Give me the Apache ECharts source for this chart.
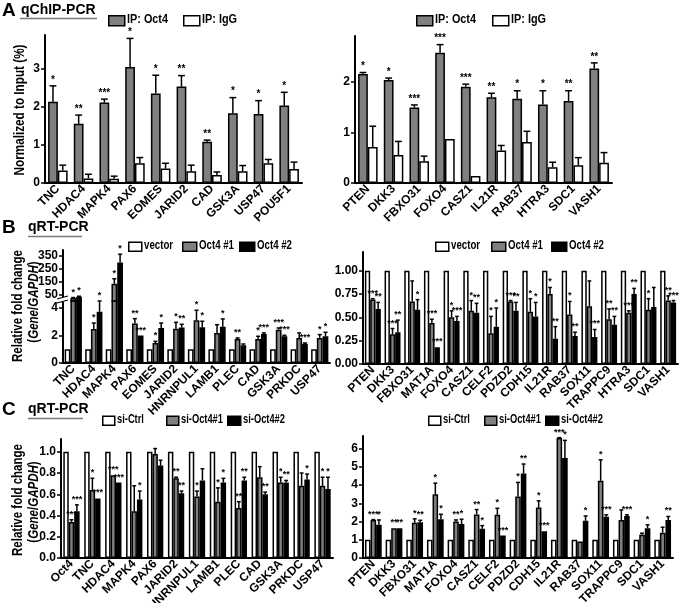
<!DOCTYPE html>
<html><head><meta charset="utf-8">
<script src="https://cdn.jsdelivr.net/npm/echarts@6/dist/echarts.min.js"></script>
<style>html,body{margin:0;padding:0;background:#fff}#c{width:681px;height:603px}</style>
</head><body><div id="c"></div>
<script>
// ---------------- DATA ----------------
// Panel A (qChIP-PCR)
const aLeftCats = ['TNC','HDAC4','MAPK4','PAX6','EOMES','JARID2','CAD','GSK3A','USP47','POU5F1'];
const aLeftOct4 = [2.14,1.56,2.12,3.06,2.36,2.54,1.09,1.84,1.82,2.04];
const aLeftOct4Err = [0.42,0.23,0.09,0.75,0.48,0.29,0.04,0.41,0.35,0.35];
const aLeftOct4Sig = ['*','**','***','*','*','**','**','*','*','*'];
const aLeftIgG = [0.33,0.12,0.11,0.52,0.38,0.31,0.21,0.31,0.52,0.37];
const aLeftIgGErr = [0.14,0.11,0.07,0.15,0.14,0.16,0.08,0.15,0.10,0.18];

const aRightCats = ['PTEN','DKK3','FBXO31','FOXO4','CASZ1','IL21R','RAB37','HTRA3','SDC1','VASH1'];
const aRightOct4 = [2.15,2.03,1.49,2.57,1.90,1.69,1.66,1.55,1.62,2.26];
const aRightOct4Err = [0.03,0.04,0.05,0.16,0.05,0.08,0.16,0.27,0.20,0.11];
const aRightOct4Sig = ['*','*','***','***','***','**','*','*','**','**'];
const aRightIgG = [0.71,0.55,0.43,0.87,0.14,0.64,0.81,0.31,0.35,0.40];
const aRightIgGErr = [0.41,0.27,0.10,0,0,0.10,0.21,0.10,0.15,0.20];

// Panel B (qRT-PCR, overexpression)
const bLeftCats = ['TNC','HDAC4','MAPK4','PAX6','EOMES','JARID2','HNRNPUL1','LAMB1','PLEC','CAD','GSK3A','PRKDC','USP47'];
const bLeftVector = [1,1,1,1,1,1,1,1,1,1,1,1,1];
const bLeftO1 = [28,2.47,135,2.86,1.45,2.49,3.10,2.18,1.74,1.74,2.42,1.82,1.82];
const bLeftO1Err = [3,0.43,38,0.36,0.12,0.46,0.73,0.60,0.08,0.20,0.12,0.36,0.24];
const bLeftO1Sig = ['*','*','*','**','*','*','*','','**','*','***','','*'];
const bLeftO2 = [38,3.72,295,1.99,2.54,2.57,2.59,2.64,1.28,2.11,1.94,1.40,1.94];
const bLeftO2Err = [3,0.78,63,0,0.36,0.24,0.44,0.56,0.10,0.07,0.07,0.05,0.29];
const bLeftO2Sig = ['*','*','*','***','*','**','*','*','','***','***','***','*'];

const bRightCats = ['PTEN','DKK3','FBXO31','MAT1A','FOXO4','CASZ1','CELF2','PDZD2','CDH15','IL21R','RAB37','SOX11','TRAPPC9','HTRA3','SDC1','VASH1'];
const bRightVector = [1,1,1,1,1,1,1,1,1,1,1,1,1,1,1,1];
const bRightO1 = [0.69,0.32,0.67,0.44,0.50,0.57,0.33,0.67,0.56,0.75,0.53,0.62,0.48,0.55,0.58,0.68];
const bRightO1Err = [0.01,0.06,0.22,0.04,0.07,0.11,0.18,0.01,0.14,0.07,0.14,0.27,0.11,0.02,0.12,0.05];
const bRightO1Sig = ['***','***','','***','*','*','*','***','*','*','*','','**','***','*','**'];
const bRightO2 = [0.59,0.34,0.58,0.18,0.46,0.55,0.40,0.57,0.51,0.27,0.30,0.29,0.42,0.75,0.61,0.66];
const bRightO2Err = [0.07,0.13,0.11,0,0.05,0.10,0.20,0.09,0.15,0.13,0.04,0.08,0.09,0.06,0.21,0.02];
const bRightO2Sig = ['**','**','*','***','***','**','*','**','*','**','**','***','**','**','','***'];

// Panel C (qRT-PCR, knockdown)
const cLeftCats = ['Oct4','TNC','HDAC4','MAPK4','PAX6','JARID2','HNRNPUL1','LAMB1','PLEC','CAD','GSK3A','PRKDC','USP47'];
const cLeftCtrl = [1,1,1,1,1,1,1,1,1,1,1,1,1];
const cLeftS1 = [0.34,0.64,0.78,0.44,0.98,0.75,0.58,0.53,0.47,0.76,0.71,0.68,0.68];
const cLeftS1Err = [0.02,0.11,0,0.24,0.05,0.01,0.05,0.13,0.06,0.10,0.05,0.12,0.08];
const cLeftS1Sig = ['***','*','***','','','**','*','*','**','','*','','*'];
const cLeftS2 = [0.44,0.56,0.71,0.55,0.87,0.61,0.73,0.71,0.73,0.60,0.71,0.74,0.65];
const cLeftS2Err = [0.06,0,0,0.08,0.05,0.02,0.11,0.04,0.03,0.02,0.02,0.05,0.11];
const cLeftS2Sig = ['***','***','***','*','','**','','*','**','**','**','*','*'];

const cRightCats = ['PTEN','DKK3','FBXO31','MAT1A','FOXO4','CASZ1','CELF2','PDZD2','CDH15','IL21R','RAB37','SOX11','TRAPPC9','SDC1','VASH1'];
const cRightCtrl = [1,1,1,1,1,1,1,1,1,1,1,1,1,1,1];
const cRightS1 = [2.09,1.63,1.93,3.50,2.00,2.39,2.37,3.38,2.77,6.59,0.90,4.24,2.09,1.27,1.39];
const cRightS1Err = [0.02,0,0.22,0.61,0.09,0.27,0.36,0.77,0.37,0.02,0,1.15,0.55,0.09,0.30];
const cRightS1Sig = ['***','**','*','*','**','**','*','*','*','***','','*','','',''];
const cRightS2 = [1.82,1.63,1.96,2.13,1.87,1.60,1.23,4.64,1.47,5.49,2.04,2.26,2.31,1.63,2.09];
const cRightS2Err = [0.27,0,0.11,0.27,0.26,0.18,0,0.52,0,0.97,0.27,0.11,0.06,0.19,0.19];
const cRightS2Sig = ['*','**','**','*','*','*','***','**','***','*','*','***','***','*','**'];

// tick labels
const aLeftTicks = [0,1,2,3];
const aRightTicks = [0,1,2];
const bLowTicks = [0,2,4];
const bHighTicks = [50,150,250,350];
const bRightTicks = [0,0.25,0.5,0.75,1.0];
const cLeftTicks = [0,0.2,0.4,0.6,0.8,1.0];
const cRightTicks = [0,1,2,3,4,5,6];

// ---------------- BUILD ----------------
const FF = "'Liberation Sans',Arial,sans-serif";
const WHITE = '#ffffff', GRAY = '#808080', BLACK = '#000000';
const grids = [], xAxes = [], yAxes = [], series = [], legends = [], graphics = [];

// the original uses a condensed bold face: measure and compress horizontally to the same length
const mctx = document.createElement('canvas').getContext('2d');
function tw(text, size){ mctx.font = 'bold ' + size + 'px ' + FF; return mctx.measureText(text).width; }
function squeeze(text, size, target){ return Math.min(1, target / tw(text, size)); }

function addGrid(g){ g.outerBoundsMode = 'none'; g.containLabel = false; grids.push(g); return grids.length - 1; }
function addX(gi, cats, show){
  xAxes.push({type:'category', gridIndex:gi, data:cats, show: show !== false,
    axisLine:{lineStyle:{color:'#000', width:2}}, axisTick:{show:false},
    axisLabel:{interval:0, rotate:45, fontFamily:FF, fontWeight:'bold', fontSize:12, color:'#000', margin:4}});
  return xAxes.length - 1;
}
function addY(gi, min, max, ticks, fmt){
  yAxes.push({type:'value', gridIndex:gi, min:min, max:max, splitLine:{show:false},
    axisLine:{show:true, lineStyle:{color:'#000', width:2}},
    axisTick:{show:true, length:4, customValues:ticks, lineStyle:{color:'#000', width:1.5}},
    axisLabel:{customValues:ticks, formatter:fmt, fontFamily:FF, fontWeight:'bold', fontSize:12, color:'#000', margin:5}});
  return yAxes.length - 1;
}
function bar(name, vals, color, xi, yi, frac){
  return {type:'bar', name:name, data:vals, xAxisIndex:xi, yAxisIndex:yi, barWidth:(frac*100)+'%', barGap:'0%',
    clip:true, silent:true, itemStyle:{color:color, borderColor:'#000', borderWidth:1.5}};
}
function errs(vals, es, sigs, k, n, frac, xi, yi, filter, fs){
  return {type:'custom', xAxisIndex:xi, yAxisIndex:yi, clip:false, silent:true, z:5,
    data: vals.map((v, i) => [i, v, es[i]]),
    renderItem: function(params, api){
      const i = api.value(0), v = api.value(1), e = api.value(2);
      if (filter && !filter(v)) return null;
      const band = api.size([1, 0])[0];
      const bw = band * frac;
      const cx = api.coord([i, 0])[0] + (k - (n - 1) / 2) * bw;
      const y0 = api.coord([i, v])[1], y1 = api.coord([i, v + e])[1];
      const cw = Math.max(3, bw * 0.7);
      const ch = [];
      if (e > 0) {
        ch.push({type:'line', shape:{x1:cx, y1:y0, x2:cx, y2:y1}, style:{stroke:'#000', lineWidth:1.5}});
        ch.push({type:'line', shape:{x1:cx - cw / 2, y1:y1, x2:cx + cw / 2, y2:y1}, style:{stroke:'#000', lineWidth:1.5}});
      }
      const s = sigs[params.dataIndex];
      if (s) ch.push({type:'text', x:cx, y:y1 - 1, style:{text:s, fill:'#000', font:'bold ' + fs + 'px ' + FF,
        textAlign:'center', align:'center', textVerticalAlign:'bottom', verticalAlign:'bottom'}});
      return {type:'group', children:ch};
    }};
}
// legend swatch from the legend component; its label is drawn as condensed real text
function legendItem(name, left, cy, w, h, size, sx){
  legends.push({data:[name], left:left, top:cy - h / 2, padding:0, itemWidth:w, itemHeight:h, icon:'rect',
    selectedMode:false, itemStyle:{borderColor:'#000', borderWidth:1.5}, formatter:function(){ return ''; },
    textStyle:{fontSize:1}});
  graphics.push({type:'text', x:left + w + 3, y:cy, scaleX:sx, scaleY:1, z:50,
    style:{text:name, fill:'#000', font:'bold ' + size + 'px ' + FF,
      textAlign:'left', align:'left', textVerticalAlign:'middle', verticalAlign:'middle'}});
}
function panel(grid, cats, groups, frac, ymax, ticks, fmt, fs){
  const gi = addGrid(grid), xi = addX(gi, cats), yi = addY(gi, 0, ymax, ticks, fmt);
  groups.forEach(g => series.push(bar(g.name, g.vals, g.color, xi, yi, frac)));
  groups.forEach((g, k) => { if (g.errs) series.push(errs(g.vals, g.errs, g.sigs, k, groups.length, frac, xi, yi, null, fs)); });
}
const intFmt = v => String(v);

// Panel A
panel({left:45, top:35, width:257, height:148}, aLeftCats, [
  {name:'IP: Oct4', vals:aLeftOct4, color:GRAY, errs:aLeftOct4Err, sigs:aLeftOct4Sig},
  {name:'IP: IgG', vals:aLeftIgG, color:WHITE, errs:aLeftIgGErr, sigs:[]}
], 0.38, 3.9, aLeftTicks, intFmt, 10);
panel({left:355, top:36, width:257, height:147}, aRightCats, [
  {name:'IP: Oct4', vals:aRightOct4, color:GRAY, errs:aRightOct4Err, sigs:aRightOct4Sig},
  {name:'IP: IgG', vals:aRightIgG, color:WHITE, errs:aRightIgGErr, sigs:[]}
], 0.38, 2.9, aRightTicks, intFmt, 10);

// Panel B left: broken axis = two stacked grids
(function(){
  const frac = 0.28, LIM = 4.5;
  const gLo = addGrid({left:63, top:301, width:267, height:62});
  const gHi = addGrid({left:63, top:250, width:267, height:51});
  const xLo = addX(gLo, bLeftCats), xHi = addX(gHi, bLeftCats, false);
  const yLo = addY(gLo, 0, LIM, bLowTicks, intFmt), yHi = addY(gHi, 5, 390, bHighTicks, intFmt);
  const groups = [
    {name:'vector', vals:bLeftVector, color:WHITE},
    {name:'Oct4 #1', vals:bLeftO1, color:GRAY, errs:bLeftO1Err, sigs:bLeftO1Sig},
    {name:'Oct4 #2', vals:bLeftO2, color:BLACK, errs:bLeftO2Err, sigs:bLeftO2Sig}
  ];
  groups.forEach(g => series.push(bar(g.name, g.vals, g.color, xLo, yLo, frac)));
  groups.forEach(g => series.push(bar(g.name, g.vals, g.color, xHi, yHi, frac)));
  groups.forEach((g, k) => { if (g.errs) {
    series.push(errs(g.vals, g.errs, g.sigs, k, 3, frac, xLo, yLo, v => v <= LIM, 9));
    series.push(errs(g.vals, g.errs, g.sigs, k, 3, frac, xHi, yHi, v => v > LIM, 9));
  }});
})();

panel({left:363, top:252, width:315, height:112}, bRightCats, [
  {name:'vector', vals:bRightVector, color:WHITE},
  {name:'Oct4 #1', vals:bRightO1, color:GRAY, errs:bRightO1Err, sigs:bRightO1Sig},
  {name:'Oct4 #2', vals:bRightO2, color:BLACK, errs:bRightO2Err, sigs:bRightO2Sig}
], 0.27, 1.2, bRightTicks, v => v.toFixed(2), 9);

// Panel C
panel({left:61, top:439, width:272, height:119}, cLeftCats, [
  {name:'si-Ctrl', vals:cLeftCtrl, color:WHITE},
  {name:'si-Oct4#1', vals:cLeftS1, color:GRAY, errs:cLeftS1Err, sigs:cLeftS1Sig},
  {name:'si-Oct4#2', vals:cLeftS2, color:BLACK, errs:cLeftS2Err, sigs:cLeftS2Sig}
], 0.26, 1.12, cLeftTicks, v => v.toFixed(1), 9);
panel({left:363, top:436, width:310, height:122}, cRightCats, [
  {name:'si-Ctrl', vals:cRightCtrl, color:WHITE},
  {name:'si-Oct4#1', vals:cRightS1, color:GRAY, errs:cRightS1Err, sigs:cRightS1Sig},
  {name:'si-Oct4#2', vals:cRightS2, color:BLACK, errs:cRightS2Err, sigs:cRightS2Sig}
], 0.27, 6.7, cRightTicks, intFmt, 9);

// Legends
const LA = 12.5, LB = 12, LC = 12;
const sxA = squeeze('IP: Oct4', LA, 41), sxB = squeeze('Oct4 #1', LB, 35), sxC = squeeze('si-Oct4#1', LC, 42);
legendItem('IP: Oct4', 108, 20, 16, 10, LA, sxA); legendItem('IP: IgG', 183, 20, 16, 10, LA, sxA);
legendItem('IP: Oct4', 416, 20, 16, 10, LA, sxA); legendItem('IP: IgG', 492, 20, 16, 10, LA, sxA);
legendItem('vector', 128, 246, 13, 9, LB, sxB); legendItem('Oct4 #1', 182, 246, 14, 9, LB, sxB); legendItem('Oct4 #2', 239, 246, 15, 9, LB, sxB);
legendItem('vector', 435, 246, 13, 9, LB, sxB); legendItem('Oct4 #1', 491, 246, 14, 9, LB, sxB); legendItem('Oct4 #2', 551, 246, 15, 9, LB, sxB);
legendItem('si-Ctrl', 102, 420, 12, 9, LC, sxC); legendItem('si-Oct4#1', 166, 420, 12, 9, LC, sxC); legendItem('si-Oct4#2', 227, 420, 13, 9, LC, sxC);
legendItem('si-Ctrl', 428, 420, 12, 9, LC, sxC); legendItem('si-Oct4#1', 484, 420, 12, 9, LC, sxC); legendItem('si-Oct4#2', 545, 420, 13, 9, LC, sxC);

// Titles, axis names, axis break mark
function txt(x, y, text, size){
  return {type:'text', x:x, y:y, z:50, style:{text:text, fill:'#000', font:'bold ' + size + 'px ' + FF,
    textAlign:'left', align:'left', textVerticalAlign:'top', verticalAlign:'top'}};
}
function vtxt(x, y, text, size, sx, rich){
  return {type:'text', x:x, y:y, rotation:Math.PI / 2, scaleX:sx, scaleY:1, z:50,
    style:{text:text, fill:'#000', font:'bold ' + size + 'px ' + FF,
    textAlign:'center', align:'center', textVerticalAlign:'middle', verticalAlign:'middle', rich:rich}};
}
const NS = 14;
const sxNameA = squeeze('Normalized to Input (%)', NS, 131);
const sxNameBC = squeeze('Relative fold change', NS, 112);
const richGene = {
  n:{fontFamily:FF, fontWeight:'bold', fontSize:NS, fill:'#000'},
  i:{fontFamily:FF, fontWeight:'bold', fontStyle:'italic', fontSize:NS, fill:'#000'}
};
const geneText = '{n|(}{i|Gene}{n|/}{i|GAPDH}{n|)}';
graphics.push(
  txt(2, 1, 'A', 19), txt(21, 3, 'qChIP-PCR', 14),
  {type:'line', shape:{x1:20, y1:18.5, x2:97, y2:18.5}, style:{stroke:'#7a7a7a', lineWidth:1.5}},
  txt(2, 218, 'B', 19), txt(28, 220, 'qRT-PCR', 14),
  {type:'line', shape:{x1:28, y1:236.5, x2:82, y2:236.5}, style:{stroke:'#7a7a7a', lineWidth:1.5}},
  txt(2, 400, 'C', 19), txt(28, 402, 'qRT-PCR', 14),
  {type:'line', shape:{x1:28, y1:418.5, x2:83, y2:418.5}, style:{stroke:'#7a7a7a', lineWidth:1.5}},
  vtxt(20, 110, 'Normalized to Input (%)', NS, sxNameA),
  vtxt(18, 306, 'Relative fold change', NS, sxNameBC),
  vtxt(34, 302, geneText, NS, sxNameBC, richGene),
  vtxt(18, 500, 'Relative fold change', NS, sxNameBC),
  vtxt(34, 502, geneText, NS, sxNameBC, richGene),
  {type:'rect', shape:{x:57, y:297, width:11, height:5}, style:{fill:'#fff'}, z:60},
  {type:'line', shape:{x1:57, y1:299, x2:68, y2:296}, style:{stroke:'#000', lineWidth:1.2}, z:61},
  {type:'line', shape:{x1:57, y1:303, x2:68, y2:300}, style:{stroke:'#000', lineWidth:1.2}, z:61}
);

const chart = echarts.init(document.getElementById('c'), null, {renderer:'canvas'});
chart.setOption({
  backgroundColor:'#fff', animation:false,
  grid:grids, xAxis:xAxes, yAxis:yAxes, series:series, legend:legends,
  graphic:{elements:graphics}
});
</script></body></html>
